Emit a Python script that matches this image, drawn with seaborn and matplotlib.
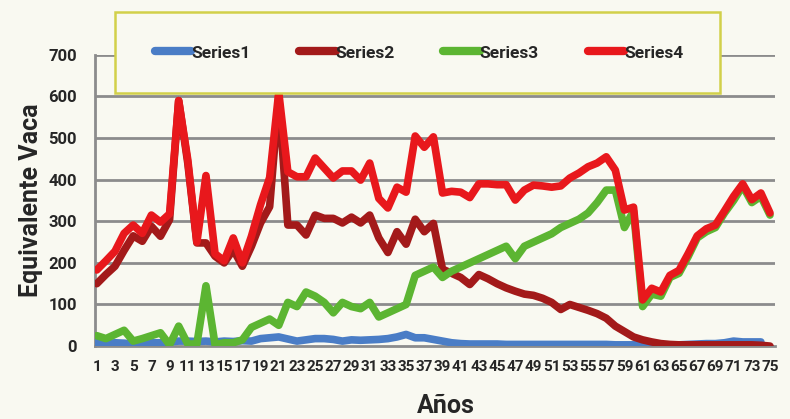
import numpy as np
import pandas as pd
import seaborn as sns
import matplotlib.pyplot as plt
from matplotlib.lines import Line2D
from matplotlib.patches import Rectangle

sns.set_style("white")
plt.rcParams['font.family'] = ['Roboto', 'DejaVu Sans']
plt.rcParams['font.weight'] = 'bold'

# years 1..75
anos = list(range(1, 76))

series1 = [8, 6, 8, 7, 5, 6, 8, 8, 10, 12, 12, 11, 12, 10, 12, 11, 13, 12, 18, 20,
           22, 17, 12, 15, 18, 18, 16, 12, 15, 14, 15, 16, 18, 22, 28, 20, 20, 16, 12, 8,
           6, 5, 5, 5, 5, 4, 4, 4, 4, 4, 4, 4, 4, 4, 4, 4, 4, 3, 3, 3,
           3, 3, 3, 3, 3, 4, 5, 6, 6, 8, 12, 10, 10, 10, np.nan]
series2 = [150, 172, 192, 230, 265, 252, 288, 264, 304, 590, 440, 248, 248, 216, 200, 232, 192, 240, 296, 335,
           600, 291, 291, 267, 315, 307, 307, 296, 310, 296, 315, 260, 225, 275, 245, 305, 275, 295, 185, 175,
           165, 148, 172, 162, 150, 140, 132, 125, 122, 115, 105, 88, 100, 93, 86, 78, 67, 48, 35, 22,
           15, 10, 6, 4, 3, 3, 3, 3, 3, 3, 3, 3, 3, 2, 0]
series3 = [25, 18, 28, 38, 12, 18, 25, 32, 3, 48, 5, 5, 145, 3, 8, 8, 15, 45, 55, 65,
           50, 105, 95, 130, 120, 105, 80, 105, 95, 90, 105, 70, 80, 90, 100, 170, 180, 190, 165, 180,
           190, 200, 210, 220, 230, 240, 210, 240, 250, 260, 270, 285, 295, 305, 320, 345, 375, 375, 285, 325,
           95, 125, 120, 165, 175, 215, 260, 275, 285, 320, 350, 385, 345, 360, 315]
series4 = [183, 205, 228, 271, 291, 271, 315, 298, 318, 590, 448, 250, 410, 222, 205, 260, 200, 264, 340, 405,
           610, 419, 407, 407, 452, 428, 404, 421, 421, 399, 440, 355, 332, 382, 370, 505, 478, 503, 368, 372,
           370, 357, 390, 390, 388, 388, 351, 375, 387, 385, 382, 385, 404, 416, 431, 440, 455, 423, 327, 334,
           111, 139, 130, 170, 182, 222, 265, 282, 291, 325, 360, 390, 352, 368, 320]

names = ['Series1', 'Series2', 'Series3', 'Series4']
colors = {'Series1': '#4A7DC6', 'Series2': '#A31A1A', 'Series3': '#5CB532', 'Series4': '#E8181C'}

df = pd.DataFrame({'anio': anos, 'Series1': series1, 'Series2': series2,
                   'Series3': series3, 'Series4': series4})
long = df.melt(id_vars='anio', var_name='serie', value_name='valor')

bg = '#F9F9F1'
fig = plt.figure(figsize=(7.9, 4.19), dpi=100, facecolor=bg)
ax = fig.add_axes([0.120, 0.174, 0.861, 0.695])
ax.set_facecolor(bg)

for yg in range(100, 701, 100):
    ax.axhline(yg, color='#8C8C8C', lw=2, zorder=0)

sns.lineplot(data=long, x='anio', y='valor', hue='serie', hue_order=names,
             palette=colors, lw=5.5, legend=False, ax=ax, zorder=3,
             solid_joinstyle='round', solid_capstyle='round')

ax.set_ylim(0, 700)
ax.set_xlim(0.78, 75.55)
ax.set_yticks(range(0, 701, 100))
ax.set_xticks(anos)
ax.set_xticklabels([str(a) if a % 2 == 1 else '' for a in anos])
ax.tick_params(axis='x', length=4, width=1.5, color='#8C8C8C', labelsize=11, pad=6)
ax.tick_params(axis='y', length=7, width=2, color='#8C8C8C', labelsize=12, pad=6)
for lab in ax.get_xticklabels() + ax.get_yticklabels():
    lab.set_fontweight('bold')

for s in ['top', 'right']:
    ax.spines[s].set_visible(False)
for s in ['left', 'bottom']:
    ax.spines[s].set_color('#8C8C8C')
    ax.spines[s].set_linewidth(2)

ax.set_xlabel('Años', fontsize=18, fontweight='bold')
ax.xaxis.set_label_coords(0.516, -0.165)
ax.set_ylabel('Equivalente Vaca', fontsize=18, fontweight='bold', labelpad=4)

# legend box
box = Rectangle((115 / 790, 1 - 93 / 419), 605 / 790, 81 / 419, transform=fig.transFigure,
                facecolor=bg, edgecolor='#D2D04A', lw=1.8, zorder=5)
fig.patches.append(box)
handles = [Line2D([0], [0], color=colors[n], lw=6, solid_capstyle='round') for n in names]
leg = fig.legend(handles, names, loc='center', ncol=4, frameon=False,
                 bbox_to_anchor=(419 / 790, 1 - 53 / 419),
                 handlelength=2.1, handletextpad=0.0, columnspacing=2.8,
                 prop={'weight': 'bold', 'size': 12.5})
leg.set_zorder(6)

fig.savefig('out.png', dpi=100, facecolor=bg)
